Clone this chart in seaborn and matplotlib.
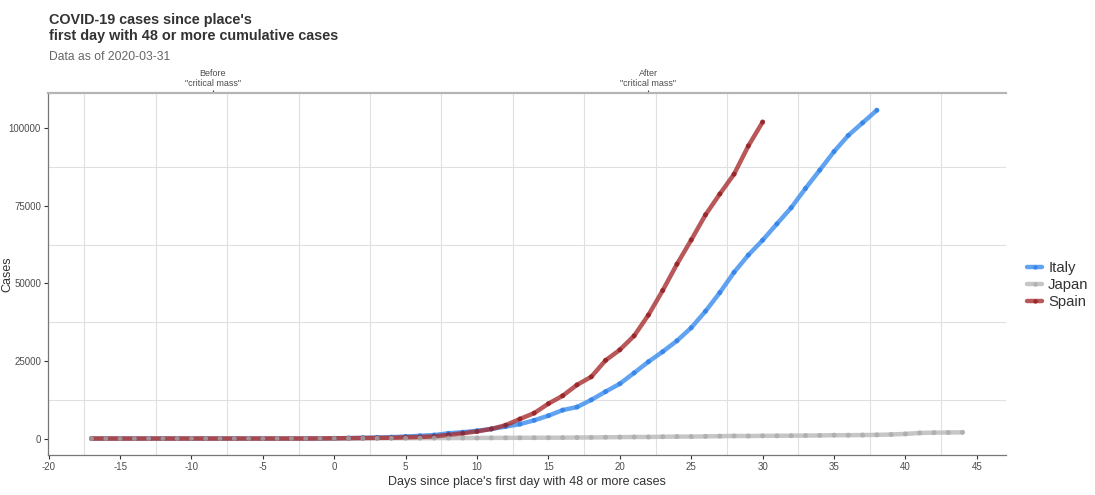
import numpy as np
import pandas as pd
import seaborn as sns
import matplotlib.pyplot as plt
from matplotlib.lines import Line2D

# cumulative cases, day -17 onwards
italy_cases = [2, 2, 3, 3, 3, 3, 3, 3, 3, 3, 3, 3, 3, 3, 3, 3, 20,
               62, 155, 229, 322, 453, 655, 888, 1128, 1694, 2036, 2502, 3089, 3858, 4636,
               5883, 7375, 9172, 10149, 12462, 15113, 17660, 21157, 24747, 27980, 31506,
               35713, 41035, 47021, 53578, 59138, 63927, 69176, 74386, 80589, 86498,
               92472, 97689, 101739, 105792]
japan_cases = [11, 15, 20, 20, 20, 22, 22, 25, 25, 25, 26, 26, 26, 28, 28, 29, 43,
               59, 66, 74, 84, 94, 105, 122, 147, 159, 170, 189, 214, 228, 241, 256, 274,
               293, 331, 360, 420, 461, 502, 511, 581, 639, 639, 701, 773, 839, 825, 878,
               889, 924, 963, 1007, 1086, 1086, 1128, 1193, 1307, 1500, 1800, 1900,
               1950, 2000]
spain_cases = [1, 1, 2, 2, 2, 2, 2, 2, 2, 2, 2, 2, 2, 2, 6, 13, 32,
               84, 120, 165, 222, 259, 400, 500, 700, 1200, 1700, 2300, 3100, 4300, 6300,
               8200, 11250, 13800, 17300, 19900, 25200, 28600, 33100, 39800, 47700, 56200,
               64000, 72100, 78800, 85200, 94300, 102000]

places = ["Italy", "Japan", "Spain"]
line_colors = {"Italy": "#3a8ced", "Japan": "#b8b8b8", "Spain": "#a62e31"}
point_colors = {"Italy": "#2f80e8", "Japan": "#ababab", "Spain": "#931c20"}
top_ticks = [-8.5, 22]
top_labels = ["Before\n\"critical mass\"", "After\n\"critical mass\""]

frames = []
for name, vals in zip(places, [italy_cases, japan_cases, spain_cases]):
    frames.append(pd.DataFrame({"day": np.arange(-17, -17 + len(vals)),
                                "cases": vals, "place": name}))
df = pd.concat(frames, ignore_index=True)

sns.set_style("white")
plt.rcParams["font.family"] = ["Liberation Sans", "DejaVu Sans"]
plt.rcParams["axes.unicode_minus"] = False

fig = plt.figure(figsize=(10.95, 4.95), dpi=100)
ax = fig.add_axes([0.0438, 0.0808, 0.875, 0.731])

sns.lineplot(data=df, x="day", y="cases", hue="place", hue_order=places,
             palette=line_colors, linewidth=3.2, alpha=0.8, ax=ax, legend=False,
             zorder=2)
# points: Japan last so its grey dots sit on top
pts = pd.concat([df[df.place == "Italy"], df[df.place == "Spain"], df[df.place == "Japan"]])
sns.scatterplot(data=pts, x="day", y="cases", hue="place", palette=point_colors,
                s=13, linewidth=0, alpha=0.8, ax=ax, legend=False, zorder=3)

ax.set_xlim(-20.05, 47.05)
ax.set_ylim(-5300, 111300)
ax.set_xticks(np.arange(-20, 46, 5))
ax.set_yticks([0, 25000, 50000, 75000, 100000])
ax.set_xticks(np.arange(-17.5, 46, 5), minor=True)
ax.set_yticks([12500, 37500, 62500, 87500], minor=True)
ax.grid(False)
ax.grid(which="minor", color="#e0e0e0", linewidth=0.8)
ax.tick_params(which="minor", length=0)
ax.tick_params(which="major", length=3, width=0.8, color="#333333",
               labelsize=7, labelcolor="#4d4d4d", pad=2, bottom=True, left=True)

ax.spines["right"].set_visible(False)
for s in ["left", "bottom"]:
    ax.spines[s].set_color("#777777")
    ax.spines[s].set_linewidth(0.9)
ax.spines["top"].set_color("#b5b5b5")
ax.spines["top"].set_linewidth(1.6)

ax.set_xlabel("Days since place's first day with 48 or more cases", fontsize=9,
              color="#333333", labelpad=3)
ax.set_ylabel("")
fig.text(0.001, 0.446, "Cases", rotation=90, fontsize=9, color="#333333",
         ha="left", va="center")

top = ax.secondary_xaxis("top")
top.set_xticks(top_ticks)
top.set_xticklabels(top_labels, fontsize=6.5, color="#4d4d4d", linespacing=1.25)
top.tick_params(length=2.5, width=0.8, color="#333333", pad=1)
top.spines["top"].set_visible(False)

fig.text(0.045, 0.913, "COVID-19 cases since place's\nfirst day with 48 or more cumulative cases",
         fontsize=10.4, fontweight="bold", color="#333333", va="bottom", linespacing=1.15)
fig.text(0.045, 0.872, "Data as of 2020-03-31", fontsize=8.7, color="#666666", va="bottom")

handles = [Line2D([0], [0], color=line_colors[p], lw=3.2, alpha=0.8, marker="o",
                  markersize=3.2, markerfacecolor=point_colors[p], markeredgewidth=0)
           for p in places]
leg = fig.legend(handles, places, loc="center left", bbox_to_anchor=(0.926, 0.424),
                 frameon=False, fontsize=10.7, handlelength=1.0, handletextpad=0.4,
                 labelspacing=0.2)
for t in leg.get_texts():
    t.set_color("#333333")

fig.savefig("out.png", dpi=100)
